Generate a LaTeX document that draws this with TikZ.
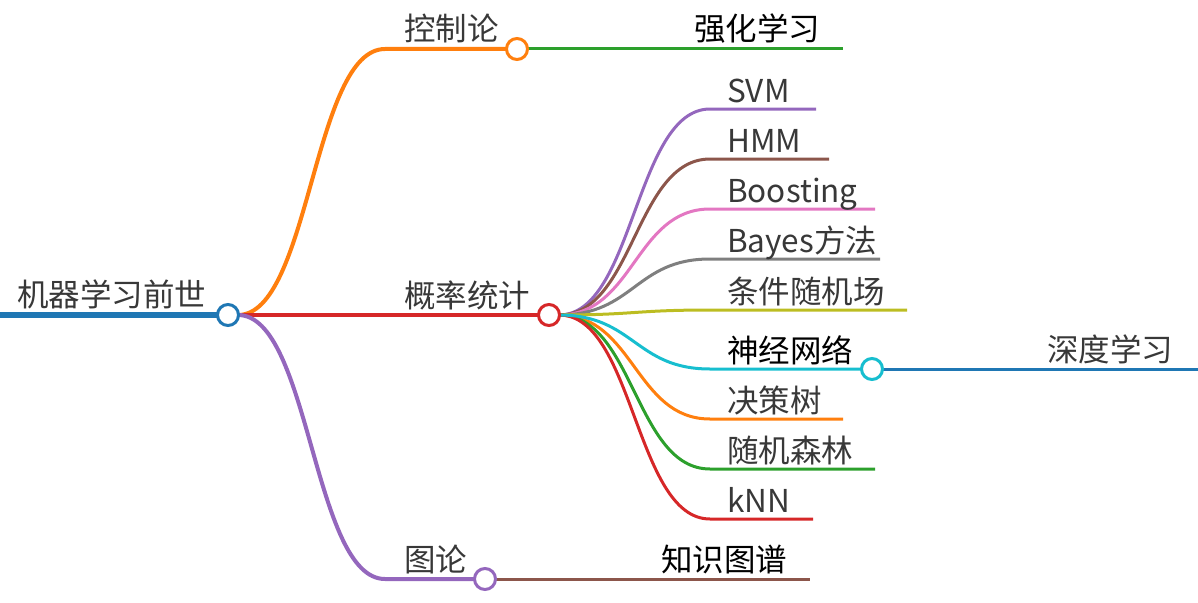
\documentclass[tikz,border=0pt]{standalone}
\usepackage{fontspec}
\setmainfont{Noto Sans CJK SC}
\definecolor{cBlue}{HTML}{1F77B4}
\definecolor{cOrange}{HTML}{FF7F0E}
\definecolor{cGreen}{HTML}{2CA02C}
\definecolor{cRed}{HTML}{D62728}
\definecolor{cPurple}{HTML}{9467BD}
\definecolor{cBrown}{HTML}{8C564B}
\definecolor{cPink}{HTML}{E377C2}
\definecolor{cGray}{HTML}{7F7F7F}
\definecolor{cOlive}{HTML}{BCBD22}
\definecolor{cCyan}{HTML}{17BECF}
\definecolor{txt}{HTML}{383838}
\begin{document}
\begin{tikzpicture}[x=1pt,y=-1pt,
  lbl/.style={anchor=base west,inner sep=0pt,text=txt,font=\fontsize{31.5}{32}\selectfont},
  blbl/.style={lbl,text=black},
  dot/.style={circle,draw=#1,fill=white,line width=3pt,minimum size=21pt,inner sep=0pt},
  l1/.style={draw=#1,line width=4pt},
  l2/.style={draw=#1,line width=3pt},
  l0/.style={draw=#1,line width=6.5pt}]
\useasboundingbox (0,0) rectangle (1198,602);
% circle centres
\coordinate (p0) at (228,315);
\coordinate (p1) at (517,49);
\coordinate (p2) at (549,315);
\coordinate (p3) at (485,579);
\coordinate (p4) at (872,369);
\coordinate (rootL) at (0,315);
% line starts / ends
\coordinate (s1) at (385,49);
\coordinate (s2) at (385,315);
\coordinate (s3) at (385,579);
\coordinate (sRL) at (677,49);  \coordinate (eRL) at (843,49);
\coordinate (sKG) at (645,579); \coordinate (eKG) at (810,579);
\coordinate (sDL) at (1031,369); \coordinate (eDL) at (1198,369);
\coordinate (sa) at (710,109); \coordinate (ea) at (816,109);
\coordinate (sb) at (710,159); \coordinate (eb) at (829,159);
\coordinate (sc) at (710,209); \coordinate (ec) at (875,209);
\coordinate (sd) at (710,259); \coordinate (ed) at (880,259);
\coordinate (se) at (710,310); \coordinate (ee) at (907,310);
\coordinate (sf) at (710,369);
\coordinate (sg) at (710,419); \coordinate (eg) at (843,419);
\coordinate (sh) at (710,469); \coordinate (eh) at (875,469);
\coordinate (si) at (710,519); \coordinate (ei) at (813,519);
% root line
\path[l0=cBlue] (rootL) -- (p0);
% depth 1
\path[l1=cOrange] ([xshift=10pt]p0) .. controls +(72,0) and +(-72,0) .. (s1) -- (p1);
\path[l1=cRed] (p0) -- (s2) -- (p2);
\path[l1=cPurple] ([xshift=10pt]p0) .. controls +(72,0) and +(-72,0) .. (s3) -- (p3);
% depth 2 from 控制论 and 图论
\path[l2=cGreen] (p1) -- (sRL) -- (eRL);
\path[l2=cBrown] (p3) -- (sKG) -- (eKG);
% depth 2 from 概率统计
\foreach \s/\e/\c in {sa/ea/cPurple,sb/eb/cBrown,sc/ec/cPink,sd/ed/cGray,se/ee/cOlive,sg/eg/cOrange,sh/eh/cGreen,si/ei/cRed}{
  \path[l2=\c] ([xshift=10pt]p2) .. controls +(75,0) and +(-75,0) .. (\s) -- (\e);
}
\path[l2=cCyan] ([xshift=10pt]p2) .. controls +(75,0) and +(-75,0) .. (sf) -- (p4);
\path[l2=cBlue] (p4) -- (sDL) -- (eDL);
% circles
\node[dot=cBlue] (n0) at (p0) {};
\node[dot=cOrange] (n1) at (p1) {};
\node[dot=cRed] (n2) at (p2) {};
\node[dot=cPurple] (n3) at (p3) {};
\node[dot=cCyan] (n4) at (p4) {};
% labels
\node[lbl] (t0) at (17,306) {机器学习前世};
\node[lbl] (t1) at (404,41) {控制论};
\node[lbl] (t2) at (404,307) {概率统计};
\node[lbl] (t3) at (404,571) {图论};
\node[blbl] (tRL) at (694,41) {强化学习};
\node[blbl] (tKG) at (661,571) {知识图谱};
\node[lbl] (tDL) at (1047,361) {深度学习};
\node[lbl] (ta) at (727,102) {SVM};
\node[lbl] (tb) at (727,152) {HMM};
\node[lbl] (tc) at (727,202) {Boosting};
\node[lbl] (td) at (727,252) {Bayes方法};
\node[lbl] (te) at (727,303) {条件随机场};
\node[blbl] (tf) at (727,362) {神经网络};
\node[lbl] (tg) at (727,412) {决策树};
\node[lbl] (th) at (727,462) {随机森林};
\node[lbl] (ti) at (727,512) {kNN};
\end{tikzpicture}
\end{document}
